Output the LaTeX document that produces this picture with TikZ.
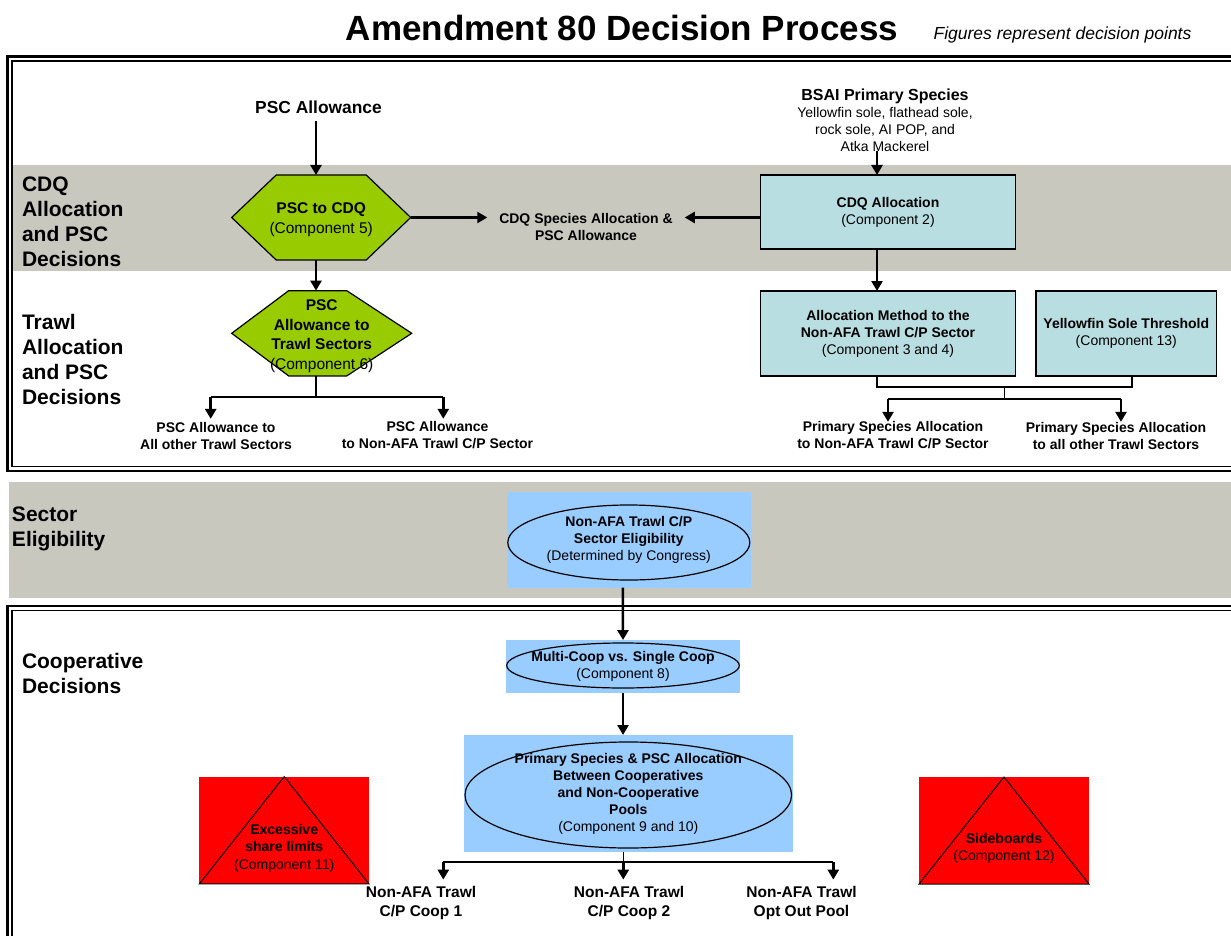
\documentclass[tikz,border=0pt]{standalone}
\usepackage{fontspec}
\setmainfont{Liberation Sans}
\usetikzlibrary{arrows.meta,calc}
\definecolor{bandgray}{RGB}{200,200,191}
\definecolor{hexgreen}{RGB}{153,204,0}
\definecolor{boxcyan}{RGB}{185,222,225}
\definecolor{ovalblue}{RGB}{153,204,255}
\pgfdeclarelayer{bglayer}
\pgfdeclarelayer{shapelayer}
\pgfsetlayers{bglayer,shapelayer,main}
\newcommand\fsz[2]{\fontsize{#1}{#2}\selectfont}
\begin{document}
\begin{tikzpicture}[x=1pt,y=-1pt,
  every node/.style={inner sep=0pt, outer sep=0pt},
  hdr/.style={font=\fsz{21}{25}\bfseries, align=left, anchor=north west},
  txt/.style={font=\fsz{14}{17}\bfseries, align=center},
  txtb/.style={font=\fsz{15.5}{18.3}\bfseries, align=center},
  arr/.style={line width=2.5pt, -{Triangle[length=10pt,width=11pt]}},
  ln/.style={line width=1.5pt},
  cbox/.style={draw, line width=1.5pt, fill=boxcyan, align=center, font=\fsz{14}{17}},
  hexnode/.style={align=center, font=\fsz{15.5}{19.5}},
  bluerect/.style={fill=ovalblue, align=center, font=\fsz{14}{17}},
  oval/.style={draw, line width=1.2pt, fill=ovalblue},
  hexshape/.style={draw, line width=1.2pt, fill=hexgreen},
  redrect/.style={fill=red},
  tritxt/.style={align=center, font=\fsz{14}{17.4}},
  frameout/.style={line width=2.5pt},
  framein/.style={line width=1.2pt}]
\useasboundingbox (0,0) rectangle (1231,936);

% ---------- background bands and frames
\begin{pgfonlayer}{bglayer}
\fill[bandgray] (12,165) rectangle (1231,271);
\fill[bandgray] (9,482) rectangle (1231,598);
\draw[frameout] (7.5,56.5) rectangle (1260,471);
\draw[framein] (12,61) rectangle (1256,466.5);
\draw[frameout] (7.5,606) rectangle (1260,960);
\draw[framein] (12,610.5) rectangle (1256,956);
\end{pgfonlayer}

% ---------- title
\node[font=\fsz{35}{40}\bfseries] (title) at (622,27.5) {Amendment 80 Decision Process};
\node[font=\fsz{17.5}{20}\itshape] (sub) at (1062.5,34.5) {Figures represent decision points};

% ---------- section labels
\node[hdr] (lab1) at (22,176.5) {CDQ\\Allocation\\and PSC\\Decisions};
\node[hdr] (lab2) at (22,314.5) {Trawl\\Allocation\\and PSC\\Decisions};
\node[hdr] (lab3) at (12,506.5) {Sector\\Eligibility};
\node[hdr] (lab4) at (22,653.5) {Cooperative\\Decisions};

% ---------- left column (PSC)
\node[font=\fsz{17.4}{20}\bfseries] (pscA) at (318.5,107) {PSC Allowance};
\node[minimum width=179pt, minimum height=85pt] (hex1) at (321.2,217.5) {};
\node[hexnode] (hex1t) at ([yshift=-2pt]hex1.center) {\textbf{PSC to CDQ}\\(Component 5)};
\node[minimum width=180pt, minimum height=85.3pt] (hex2) at (321.7,333.3) {};
\node[hexnode] (hex2t) at ([yshift=-3pt]hex2.center)
  {\textbf{PSC}\\\textbf{Allowance to}\\\textbf{Trawl Sectors}\\(Component 6)};
\begin{pgfonlayer}{shapelayer}
\draw[hexshape] (hex1.west) -- ([xshift=44.5pt]hex1.north west) -- ([xshift=-44.5pt]hex1.north east)
  -- (hex1.east) -- ([xshift=-44.5pt]hex1.south east) -- ([xshift=44.5pt]hex1.south west) -- cycle;
\draw[hexshape] (hex2.west) -- ([xshift=57pt]hex2.north west) -- ([xshift=-65pt]hex2.north east)
  -- (hex2.east) -- ([xshift=-65pt]hex2.south east) -- ([xshift=57pt]hex2.south west) -- cycle;
\end{pgfonlayer}

\node[txt, inner xsep=12pt] (cdqS) at (586,226.5) {CDQ Species Allocation \&\\PSC Allowance};

\node[txt] (paL) at (216,435.5) {PSC Allowance to\\All other Trawl Sectors};
\node[txt] (paR) at (437.5,435.5) {PSC Allowance\\to Non-AFA Trawl C/P Sector};

\draw[arr, shorten <=8pt] ([xshift=-2.5pt]pscA.south) -- ([xshift=-5.2pt]hex1.north);
\draw[arr] ([xshift=-5.2pt]hex1.south) -- ([xshift=-5.7pt]hex2.north);
\draw[arr] (hex1.east) -- (hex1.east -| cdqS.west);

\draw[ln] ([xshift=-5.7pt]hex2.south) -- ++(0,21) coordinate (s2);
\coordinate (bL) at ([xshift=-5.3pt]paL.north);
\coordinate (bR) at ([xshift=5.8pt]paR.north);
\draw[ln] (bL |- s2) -- (bR |- s2);
\draw[arr, shorten >=3pt] (bL |- s2) -- (bL);
\draw[arr, shorten >=3pt] (bR |- s2) -- (bR);

% ---------- right column (primary species)
\node[align=center, font=\fsz{14}{17}] (bsai) at (885,120)
  {{\fsz{16}{17}\bfseries BSAI Primary Species}\\Yellowfin sole, flathead sole,\\rock sole, AI POP, and\\Atka Mackerel};
\node[cbox, minimum width=254.6pt, minimum height=74pt] (cdqB) at (888,212)
  {\textbf{CDQ Allocation}\\(Component 2)};
\node[cbox, minimum width=254.6pt, minimum height=85pt] (amB) at (888,333.5)
  {\textbf{Allocation Method to the}\\\textbf{Non-AFA Trawl C/P Sector}\\(Component 3 and 4)};
\node[cbox, minimum width=180.7pt, minimum height=85pt] (ysB) at (1126.3,333.5)
  {\textbf{Yellowfin Sole Threshold}\\(Component 13)};
\node[txt] (psL) at (893,435.5) {Primary Species Allocation\\to Non-AFA Trawl C/P Sector};
\node[txt] (psR) at (1116,435.5) {Primary Species Allocation\\to all other Trawl Sectors};

\draw[arr] ([xshift=-8pt]bsai.south) -- ([xshift=-11pt]cdqB.north);
\draw[arr] (cdqB.west |- hex1.east) -- (cdqS.east |- hex1.east);
\draw[arr] ([xshift=-11pt]cdqB.south) -- ([xshift=-11pt]amB.north);

\draw[ln] ([xshift=-11pt]amB.south) -- ++(0,11) -| ([xshift=5.7pt]ysB.south);
\coordinate (brk) at (1004.3,387);
\coordinate (split) at (1004.3,399);
\draw[ln] (brk) -- (split);
\coordinate (aL) at ([xshift=-5pt]psL.north);
\coordinate (aR) at ([xshift=5pt]psR.north);
\draw[ln] (aL |- split) -- (aR |- split);
\draw[arr] (aL |- split) -- (aL);
\draw[arr] (aR |- split) -- (aR);

% ---------- lower part
\node[bluerect, minimum width=244.3pt, minimum height=96pt,
  path picture={\draw[oval] ([yshift=-2.8pt]path picture bounding box.center) ellipse [x radius=121pt, y radius=37.5pt];}]
  (seR) at (628.8,539.7) {\textbf{Non-AFA Trawl C/P}\\\textbf{Sector Eligibility}\\(Determined by Congress)};
\node[bluerect, minimum width=234pt, minimum height=53.3pt,
  path picture={\draw[oval] ([yshift=1.2pt]path picture bounding box.center) ellipse [x radius=116.3pt, y radius=22.5pt];}]
  (mcR) at (623,666.7) {\textbf{Multi-Coop vs. Single Coop}\\(Component 8)};
\node[bluerect, minimum width=328.7pt, minimum height=117pt,
  path picture={\draw[oval] ([yshift=-1.5pt]path picture bounding box.center) ellipse [x radius=163.3pt, y radius=53pt];}]
  (bigR) at (628.3,793.5) {\textbf{Primary Species \& PSC Allocation}\\\textbf{Between Cooperatives}\\\textbf{and Non-Cooperative}\\\textbf{Pools}\\(Component 9 and 10)};

\draw[arr] ([xshift=-6pt]seR.south) -- (mcR.north);
\draw[arr] (mcR.south) -- ([xshift=-5.3pt]bigR.north);

\node[txtb] (c1) at (421,903) {Non-AFA Trawl\\C/P Coop 1};
\node[txtb] (c2) at (629,903) {Non-AFA Trawl\\C/P Coop 2};
\node[txtb] (c3) at (801.5,903) {Non-AFA Trawl\\Opt Out Pool};

\draw[ln] ([xshift=-5pt]bigR.south) -- ++(0,10) coordinate (s3);
\coordinate (d1) at ([xshift=22.3pt]c1.north);
\coordinate (d2) at ([xshift=-5.7pt]c2.north);
\coordinate (d3) at ([xshift=31.8pt]c3.north);
\draw[ln] (d1 |- s3) -- (d3 |- s3);
\draw[arr, shorten >=7pt] (d1 |- s3) -- (d1);
\draw[arr, shorten >=7pt] (d2 |- s3) -- (d2);
\draw[arr, shorten >=7pt] (d3 |- s3) -- (d3);

% ---------- red triangles
\node[redrect, minimum width=169.7pt, minimum height=107.3pt] (t1) at (284.2,830.3) {};
\draw[line width=1pt] (t1.south west) -- (t1.north) -- (t1.south east) -- cycle;
\node[tritxt] (t1t) at ([yshift=-17.7pt]t1.center) {\textbf{Excessive}\\\textbf{share limits}\\(Component 11)};
\node[redrect, minimum width=170pt, minimum height=107pt] (t2) at (1004,830.5) {};
\draw[line width=1pt] (t2.south west) -- (t2.north) -- (t2.south east) -- cycle;
\node[tritxt] (t2t) at ([yshift=-18pt]t2.center) {\textbf{Sideboards}\\(Component 12)};
\end{tikzpicture}
\end{document}
